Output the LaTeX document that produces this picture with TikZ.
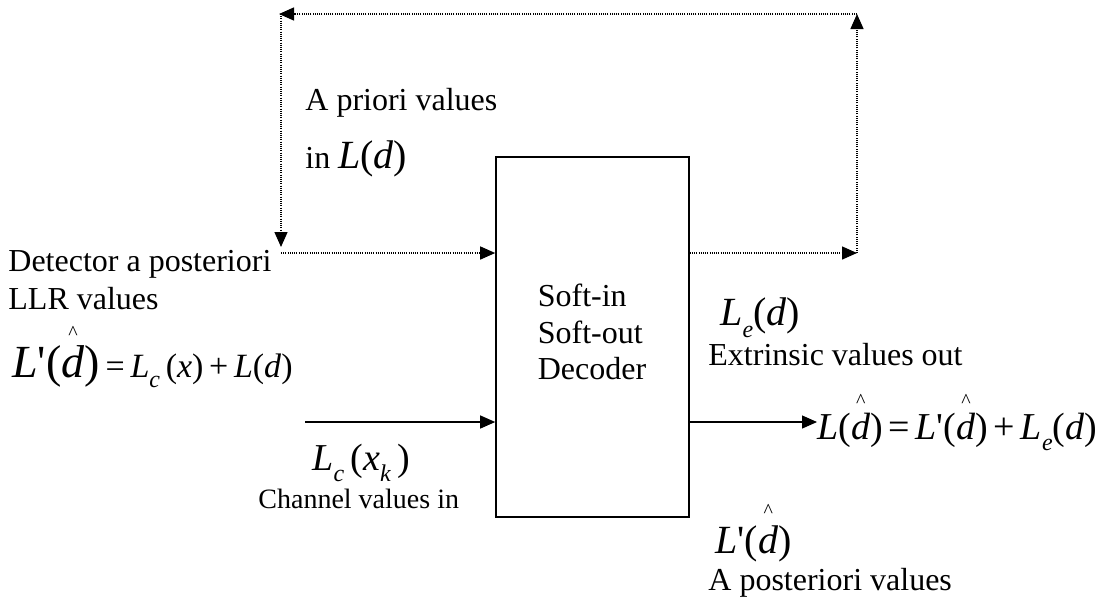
\documentclass[tikz,border=0pt]{standalone}
\usepackage{fontspec}
\setmainfont{Liberation Serif}
\usetikzlibrary{arrows.meta,positioning}
\newcommand\fs[1]{\fontsize{#1}{#1}\selectfont}
\newcommand\vL{\textit{L}}
\newcommand\vd{\textit{d}}
\newcommand\prm{\textquotesingle}
\newcommand\lsub[1]{\raisebox{-0.3em}{\fs{12}\textit{#1}}}
\newcommand\hatd[1]{\ooalign{\textit{d}\cr\hidewidth\raisebox{#1}{\fs{10}\textasciicircum}\hidewidth\cr}}

\begin{document}
\begin{tikzpicture}[x=0.5pt,y=-0.5pt,
  txt/.style={anchor=base west,inner sep=0pt,font=\fs{16}},
  flow/.style={-{Triangle[length=7.5pt,width=6.5pt]},line width=0.6pt},
  feedback/.style={flow,line width=0.7pt,dash pattern=on 0.5pt off 0.6pt},
  decoder/.style={draw,line width=0.8pt,minimum width=96.5pt,minimum height=180pt,inner sep=0pt}]

\useasboundingbox (0,0) rectangle (1119,596);

% decoder block
\node[decoder] (dec) at (592.5,337) {};
\node[align=left,inner sep=0pt,font=\fontsize{16}{18.25}\selectfont] (declabel) at (592,332) {Soft-in\\Soft-out\\Decoder};

% feedback loop
\coordinate (fbtl) at (279,14);
\coordinate (fbtr) at (857,14);
\coordinate (fbbl) at (281,253);
\coordinate (fbbr) at (857,253);
\draw[feedback] (dec.east |- fbbr) -- (fbbr);
\draw[feedback] (fbbr) -- (fbtr);
\draw[feedback] (fbtr) -- (fbtl);
\draw[feedback] (fbtl -| fbbl) -- ([yshift=3pt]fbbl);
\draw[feedback] (fbbl) -- (dec.west |- fbbl);

\node[txt] (apriori) at (305,110) {A priori values};
\node[txt] (aprin) at (305,168) {in {\fs{20}\vL(\vd)}};

% left side
\node[txt] (detect) at (8,271) {Detector a posteriori};
\node[txt] (llr) at (8,309) {LLR values};
\node[txt,font=\fs{17}] (lpeq) at (12,377) {{\fs{23}\vL\prm(\hatd{19pt})}\,=\,\vL\lsub{c}\,(\textit{x})\,+\,\vL(\vd)};

% channel input
\coordinate (chin) at (305,422);
\draw[flow] (chin) -- (dec.west |- chin);
\node[txt,font=\fs{19}] (lchan) at (312,470) {\vL\lsub{c}\,(\textit{x}\lsub{k}\,)};
\node[txt,font=\fs{14}] (chan) at (258,508) {Channel values in};

% right side
\node[txt,font=\fs{20}] (lext) at (720,325) {\vL\lsub{e}(\vd)};
\node[txt] (extr) at (708,365) {Extrinsic values out};
\node[txt,font=\fs{19}] (outeq) at (817,439) {\vL(\hatd{16pt})\hspace{0.15em}=\hspace{0.15em}\vL\prm(\hatd{16pt})\hspace{0.15em}+\hspace{0.15em}\vL\lsub{e}(\vd)};
\draw[flow] (dec.east |- chin) -- (outeq.west |- chin);
\node[txt,font=\fs{20}] (lpost) at (715,553) {\vL\prm(\hatd{18pt})};
\node[txt] (apost) at (708,590) {A posteriori values};
\end{tikzpicture}
\end{document}
